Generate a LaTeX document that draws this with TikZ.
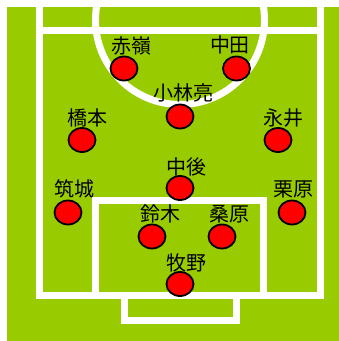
\documentclass[tikz,border=0pt]{standalone}
\usepackage{fontspec}
\newfontfamily\jpfont{Noto Sans CJK JP}
\usetikzlibrary{shapes.geometric}
\definecolor{pitch}{RGB}{153,204,0}
\begin{document}
\begin{tikzpicture}[x=1pt,y=-1pt,
  fieldline/.style={white, line width=7pt},
  player/.style={ellipse, draw=black, fill=red, line width=1.8pt, minimum width=27pt, minimum height=24pt, inner sep=0pt},
  lbl/.style={font=\jpfont\fontsize{20}{20}\selectfont, inner sep=0pt, text=black}]
\useasboundingbox (0,0) rectangle (339,341);
\clip (0,0) rectangle (339,341);
\fill[white] (0,0) rectangle (339,341);
\fill[pitch] (7,7) rectangle (339,341);
% field lines
\draw[fieldline] (180,20) circle (84.5);
\draw[fieldline, line join=miter] (39.5,-10) -- (39.5,295.5) -- (320.5,295.5) -- (320.5,-10);
\draw[fieldline] (39.5,30.5) -- (320.5,30.5);
\draw[fieldline, line join=miter] (95.5,295.5) -- (95.5,200.5) -- (263.5,200.5) -- (263.5,295.5);
\draw[fieldline, line join=miter] (124,295.5) -- (124,320) -- (236,320) -- (236,295.5);
% players
\node[player] (p1) at (124,68.5) {};
\node[player] (p2) at (236.5,68.5) {};
\node[player] (p3) at (180,116.5) {};
\node[player] (p4) at (82,140) {};
\node[player] (p5) at (278,140) {};
\node[player] (p6) at (180,188) {};
\node[player] (p7) at (68,212.5) {};
\node[player] (p8) at (292,212.5) {};
\node[player] (p9) at (152,236.5) {};
\node[player] (p10) at (222,236.5) {};
\node[player] (p11) at (180,284) {};
% names
\node[lbl] (l1) at (131.5,46) {赤嶺};
\node[lbl] (l2) at (230,45) {中田};
\node[lbl] (l3) at (183.5,93) {小林亮};
\node[lbl] (l4) at (87.5,117.5) {橋本};
\node[lbl] (l5) at (283,118) {永井};
\node[lbl] (l6) at (187,167) {中後};
\node[lbl] (l7) at (75,189) {筑城};
\node[lbl] (l8) at (293,189) {栗原};
\node[lbl] (l9) at (160,214) {鈴木};
\node[lbl] (l10) at (229,214.5) {桑原};
\node[lbl] (l11) at (187,263) {牧野};
\end{tikzpicture}
\end{document}
